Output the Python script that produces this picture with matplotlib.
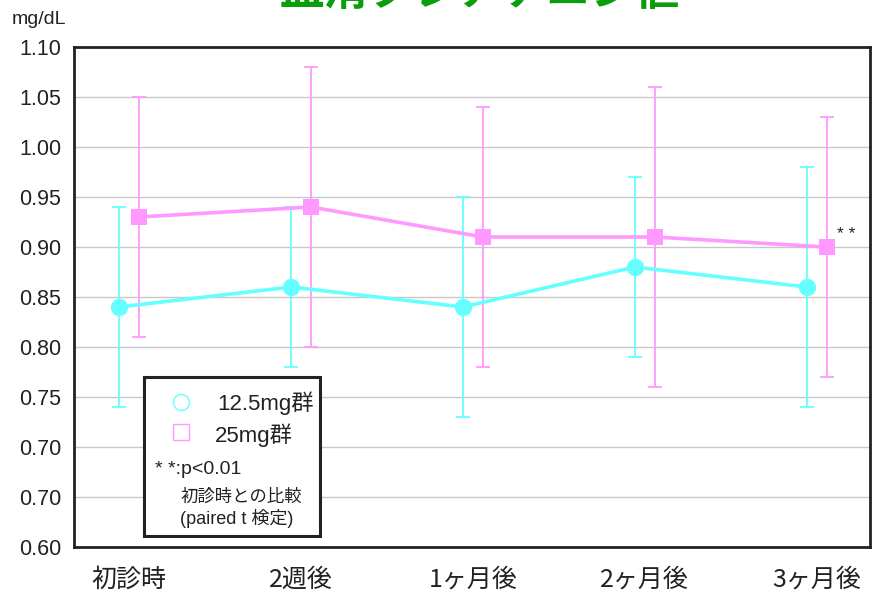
import numpy as np
import matplotlib
matplotlib.use("Agg")
import matplotlib.pyplot as plt
from matplotlib.patches import Rectangle
from matplotlib.lines import Line2D

plt.rcParams['font.family'] = ['Liberation Sans', 'Noto Sans CJK JP', 'DejaVu Sans']

# ---- data ----
categories = ["初診時", "2週後", "1ヶ月後", "2ヶ月後", "3ヶ月後"]

low_mean = [0.84, 0.86, 0.84, 0.88, 0.86]      # 12.5mg群
low_upper = [0.94, 0.94, 0.95, 0.97, 0.98]
low_lower = [0.74, 0.78, 0.73, 0.79, 0.74]

high_mean = [0.93, 0.94, 0.91, 0.91, 0.90]     # 25mg群
high_upper = [1.05, 1.08, 1.04, 1.06, 1.03]
high_lower = [0.81, 0.80, 0.78, 0.76, 0.77]

ytick_values = [0.60, 0.65, 0.70, 0.75, 0.80, 0.85, 0.90, 0.95, 1.00, 1.05, 1.10]
ytick_labels = ["0.60", "0.70", "0.70", "0.75", "0.80", "0.85",
                "0.90", "0.95", "1.00", "1.05", "1.10"]

CYAN = "#66FFFF"
PINK = "#FF99FF"
W, H = 873, 592


def fig_xy(x, y):
    """pixel position (from top-left) -> figure fraction"""
    return x / W, 1 - y / H


fig = plt.figure(figsize=(W / 100, H / 100), dpi=100)
fig.patch.set_facecolor("white")
ax = fig.add_axes([74 / W, 1 - 547 / H, (870 - 74) / W, (547 - 47) / H])

x = np.arange(len(categories))
off = 0.058

low_err = [np.array(low_mean) - np.array(low_lower),
           np.array(low_upper) - np.array(low_mean)]
high_err = [np.array(high_mean) - np.array(high_lower),
            np.array(high_upper) - np.array(high_mean)]

ax.errorbar(x - off, low_mean, yerr=low_err, fmt="none", ecolor=CYAN,
            elinewidth=1.3, capsize=5, capthick=1.3, zorder=3)
ax.errorbar(x + off, high_mean, yerr=high_err, fmt="none", ecolor=PINK,
            elinewidth=1.3, capsize=5, capthick=1.3, zorder=3)
ax.plot(x - off, low_mean, color=CYAN, lw=2.6, marker="o", markersize=12.5,
        markeredgewidth=0, zorder=4)
ax.plot(x + off, high_mean, color=PINK, lw=2.6, marker="s", markersize=12,
        markeredgewidth=0, zorder=4)

ax.text(x[-1] + off + 0.06, high_mean[-1] + 0.013, "* *", fontsize=12.5,
        color="#222222", ha="left", va="center")

ax.set_xlim(-0.32, 4.31)
ax.set_ylim(0.60, 1.10)
ax.set_yticks(ytick_values)
ax.set_yticklabels(ytick_labels, fontsize=15.5, color="#222222")
ax.set_xticks(x)
ax.set_xticklabels(categories, fontsize=18, color="#222222",
                   family=['Noto Sans CJK JP', 'DejaVu Sans'])
ax.tick_params(axis="y", length=0, pad=9)
ax.tick_params(axis="x", length=0, pad=14)
ax.grid(axis="y", color="#c8c8c8", lw=1)
ax.set_axisbelow(True)
for s in ax.spines.values():
    s.set_color("#222222")
    s.set_linewidth(2)

# unit label
fig.text(*fig_xy(12, 20), "mg/dL", fontsize=14, color="#222222",
         ha="left", va="center")

# title (runs off the top edge)
fig.text(*fig_xy(480, 5), "血清クレアチニン値", fontsize=32, fontweight="bold",
         color="#0A9F0A", ha="center", va="baseline",
         family=['Noto Sans CJK JP', 'DejaVu Sans'])

# legend box
x0, y0 = fig_xy(144, 536)
x1, y1 = fig_xy(320, 377)
fig.add_artist(Rectangle((x0, y0), x1 - x0, y1 - y0, transform=fig.transFigure,
                         facecolor="white", edgecolor="#222222", lw=2.2,
                         zorder=5))
fig.add_artist(Line2D([fig_xy(181, 402)[0]], [fig_xy(181, 402)[1]],
                      marker="o", markersize=11.5, markerfacecolor="none",
                      markeredgecolor=CYAN, markeredgewidth=1,
                      transform=fig.transFigure, zorder=6))
fig.add_artist(Line2D([fig_xy(181, 432)[0]], [fig_xy(181, 432)[1]],
                      marker="s", markersize=11, markerfacecolor="none",
                      markeredgecolor=PINK, markeredgewidth=1,
                      transform=fig.transFigure, zorder=6))
fig.text(*fig_xy(217, 403), "12.5mg群", fontsize=16, color="#222222",
         ha="left", va="center", zorder=6)
fig.text(*fig_xy(215, 435), "25mg群", fontsize=16, color="#222222",
         ha="left", va="center", zorder=6)
fig.text(*fig_xy(155, 469), "* *:p<0.01", fontsize=14, color="#222222",
         ha="left", va="center", zorder=6)
fig.text(*fig_xy(241, 497), "初診時との比較", fontsize=12.5, color="#222222",
         ha="center", va="center", zorder=6)
fig.text(*fig_xy(237, 518), "(paired t 検定)", fontsize=13, color="#222222",
         ha="center", va="center", zorder=6)

fig.savefig("out.png", dpi=100, facecolor="white")
